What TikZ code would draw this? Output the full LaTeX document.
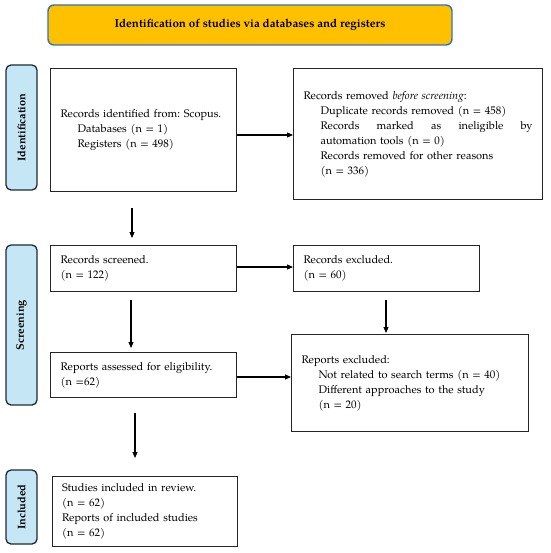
\documentclass[tikz,border=0pt]{standalone}
\usepackage{fontspec}
\setmainfont{TeX Gyre Pagella}
\usetikzlibrary{arrows.meta}
\definecolor{titlefill}{HTML}{FFC000}
\definecolor{titledraw}{HTML}{2E75B6}
\definecolor{sidefill}{HTML}{C5E6F5}
\definecolor{sidedraw}{HTML}{1E2A36}
\tikzset{
  box/.style={draw=black!85, line width=1.2pt, anchor=north west, inner xsep=10pt, inner ysep=0pt, align=left, font=\fontsize{11}{15}\selectfont\frenchspacing},
  side/.style={draw=sidedraw, fill=sidefill, line width=1.3pt, rounded corners=5pt, font=\fontsize{11}{12}\selectfont\bfseries, inner sep=0pt, rotate=90},
  arr/.style={line width=1.1pt, -{Triangle[length=6pt,width=5pt]}}
}
\newcommand{\ind}{\hspace*{17pt}}
\begin{document}
\begin{tikzpicture}[x=1pt,y=-1pt]
\useasboundingbox (0,0) rectangle (550,553);
% title
\node[draw=titledraw, fill=titlefill, line width=1.4pt, rounded corners=6pt, minimum width=404pt, minimum height=40pt, font=\fontsize{11.6}{13}\selectfont\bfseries] (title) at (250,25) {Identification of studies via databases and registers};
% side labels
\node[side, minimum height=31pt, minimum width=125pt] (sid) at (21.5,127.5) {Identification};
\node[side, minimum height=31pt, minimum width=160pt] (sscr) at (21.5,325) {Screening};
\node[side, minimum height=31pt, minimum width=74pt] (sinc) at (21.5,507) {Included};
% boxes
\node[box, minimum width=186pt, minimum height=123pt, text width=166pt] (b1) at (50,68) {Records identified from: Scopus.\\\ind Databases (n = 1)\\\ind Registers (n = 498)};
\node[box, minimum width=249pt, minimum height=131pt, text width=229pt] (b2) at (293,68) {Records removed \textit{before screening}:\\\ind Duplicate records removed (n = 458)\\\ind\makebox[212pt][l]{Records\hfill marked\hfill as\hfill ineligible\hfill by}\\\ind automation tools (n = 0)\\\ind Records removed for other reasons\\\ind (n = 336)};
\node[box, minimum width=186pt, minimum height=46pt, text width=166pt] (b3) at (50,245) {Records screened.\\(n = 122)};
\node[box, minimum width=186pt, minimum height=46pt, text width=166pt] (b4) at (293,245) {Records excluded.\\(n = 60)};
\node[box, minimum width=186pt, minimum height=45pt, text width=166pt] (b5) at (50,352) {Reports assessed for eligibility.\\(n =62)};
\node[box, minimum width=237pt, minimum height=97pt, text width=217pt] (b6) at (291,334) {Reports excluded:\\\ind Not related to search terms (n = 40)\\\ind Different approaches to the study\\\ind (n = 20)};
\node[box, minimum width=185pt, minimum height=70pt, text width=166pt, inner xsep=9pt] (b7) at (52,476) {Studies included in review.\\(n = 62)\\Reports of included studies\\(n = 62)};
% helper coordinates
\coordinate (h1) at (0,135);
\coordinate (h2) at (0,267);
\coordinate (h3) at (0,377);
\coordinate (v1) at (132,0);
\coordinate (v2) at (131,0);
\coordinate (v3) at (386,0);
\coordinate (v4) at (135,0);
% connectors
\draw[arr] (b1.east |- h1) -- (b2.west |- h1);
\draw[arr, shorten <=16pt, shorten >=7pt] (b1.south -| v1) -- (b3.north -| v1);
\draw[arr] (b3.east |- h2) -- (b4.west |- h2);
\draw[arr, shorten <=8pt, shorten >=4pt] (b3.south -| v2) -- (b5.north -| v2);
\draw[arr, shorten <=8pt, shorten >=1pt] (b4.south -| v3) -- (b6.north -| v3);
\draw[arr] (b5.east |- h3) -- (b6.west |- h3);
\draw[arr, shorten <=15pt, shorten >=18pt] (b5.south -| v4) -- (b7.north -| v4);
\end{tikzpicture}
\end{document}
